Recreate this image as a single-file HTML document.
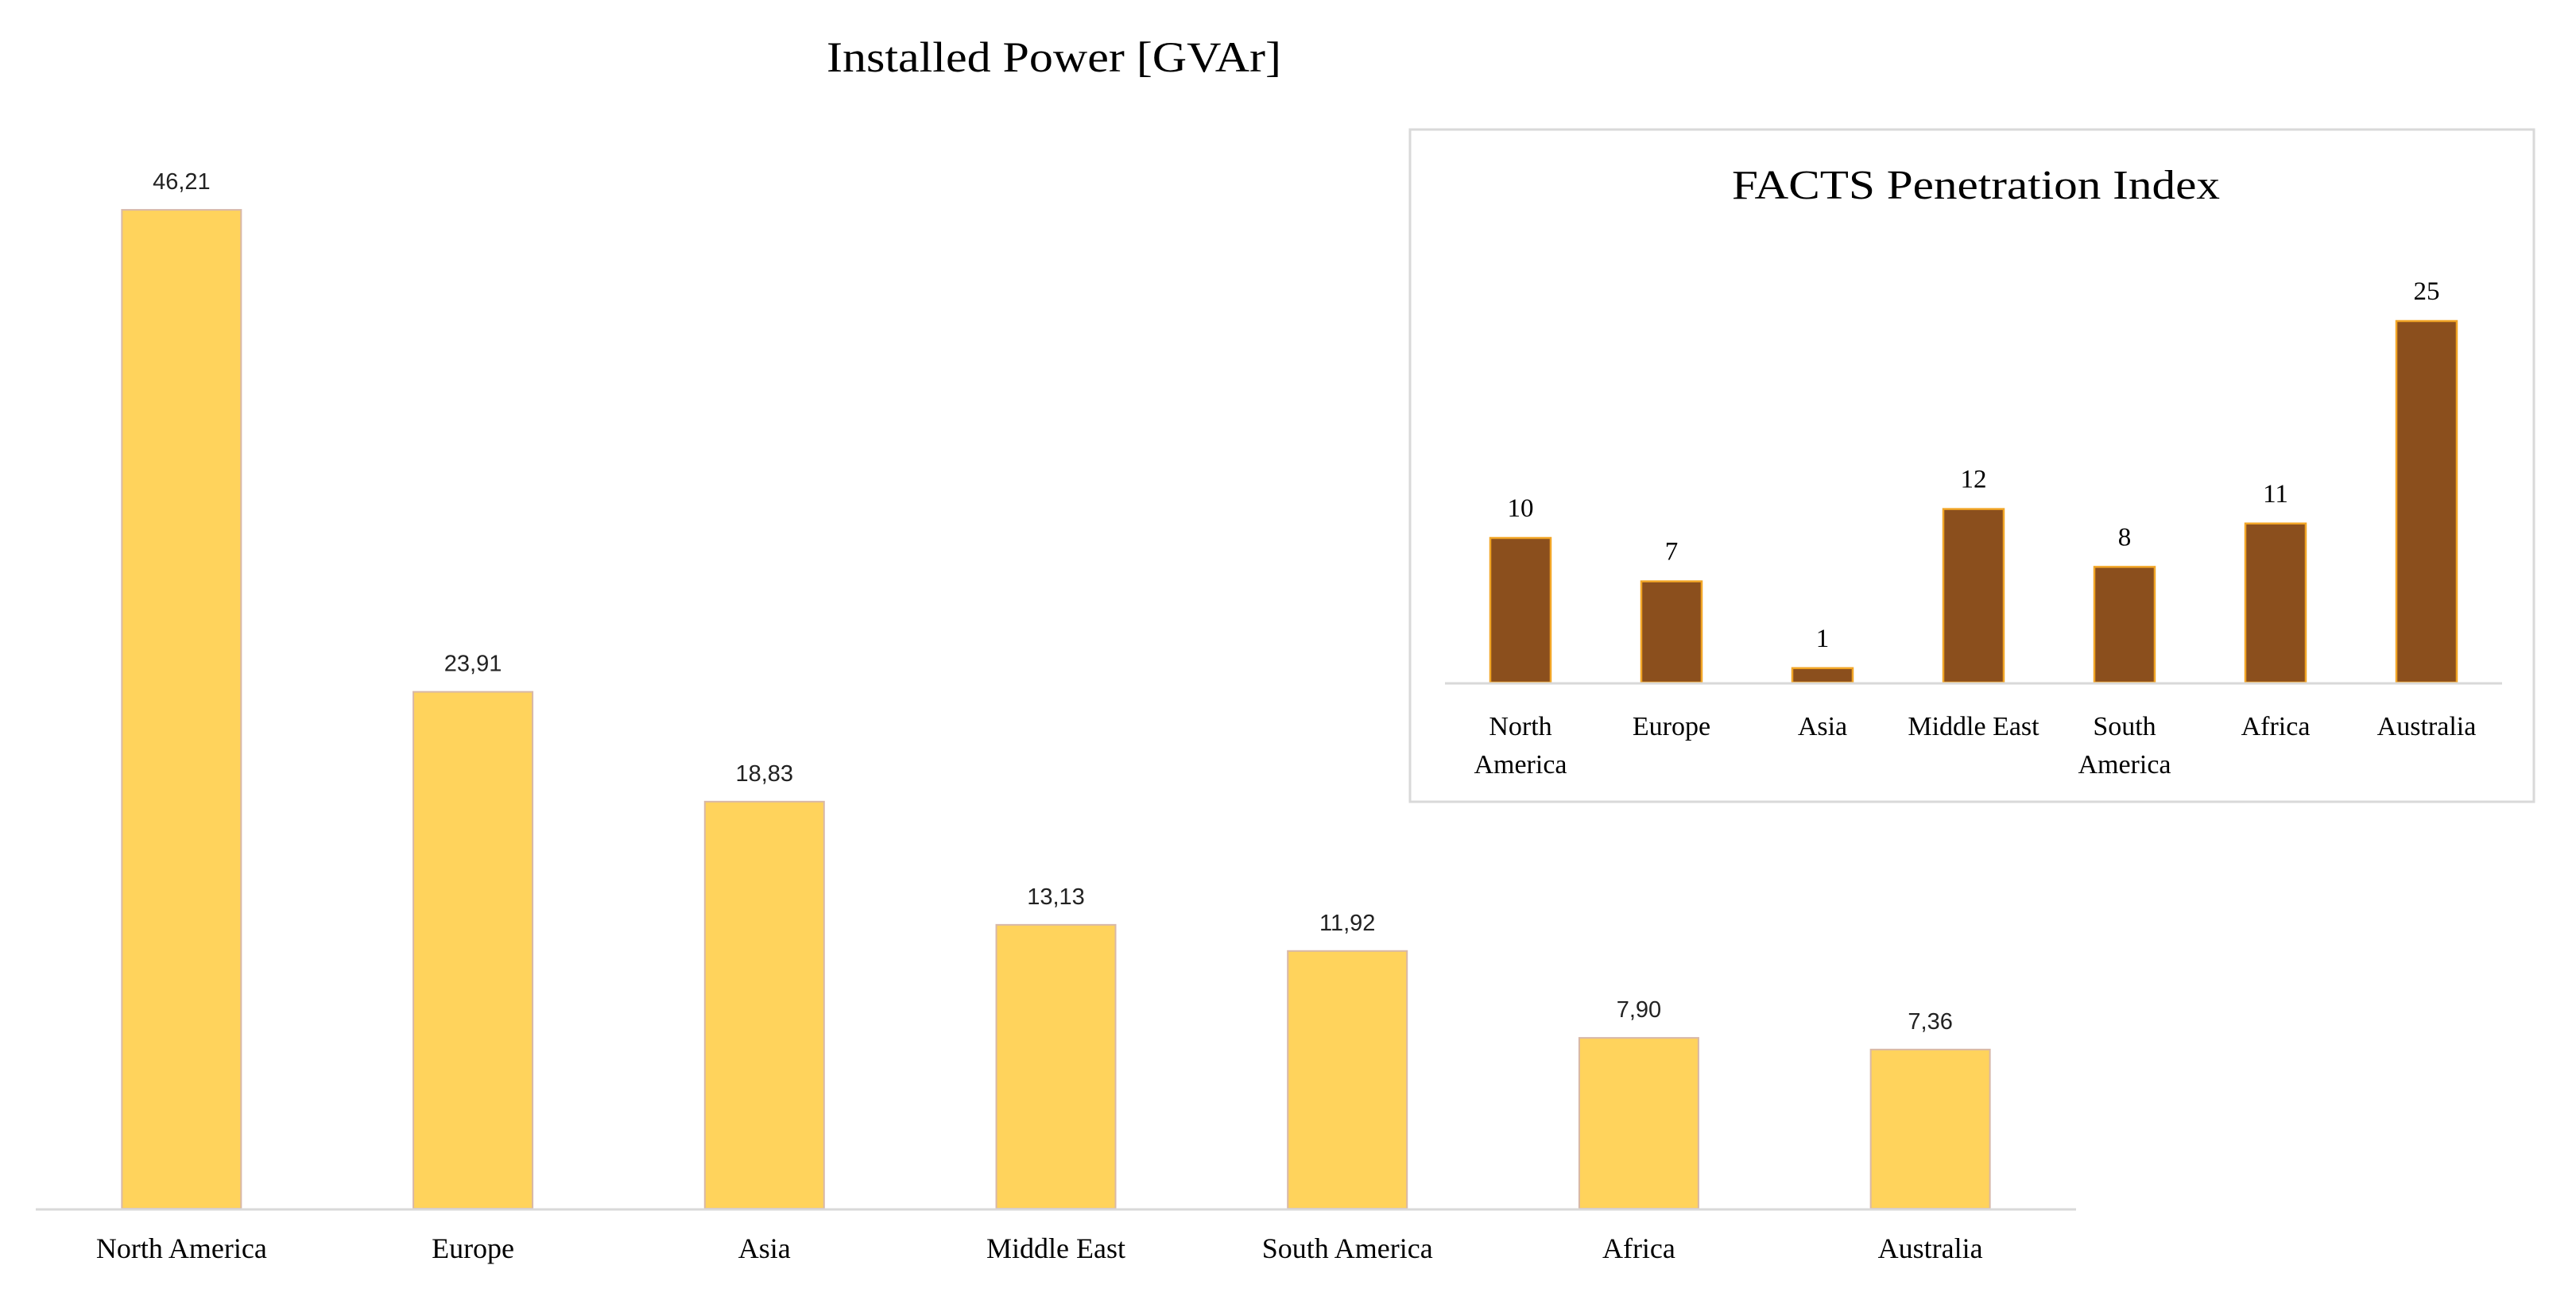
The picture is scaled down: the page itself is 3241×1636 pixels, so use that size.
<!DOCTYPE html>
<html><head><meta charset="utf-8"><style>
html,body{margin:0;padding:0;background:#fff;}
svg{display:block;}
.serif{font-family:"Liberation Serif","DejaVu Serif",serif;fill:#000;}
.sans{font-family:"Liberation Sans",sans-serif;fill:#222;}
</style></head><body>
<svg id="chart" width="3241" height="1636" viewBox="0 0 3241 1636" xmlns="http://www.w3.org/2000/svg">
<text class="serif" x="1326" y="90" text-anchor="middle" font-size="54" textLength="572" lengthAdjust="spacingAndGlyphs">Installed Power [GVAr]</text>
<g id="main"></g>
<rect x="1774" y="163" width="1414" height="846" fill="#fff" stroke="#d9d9d9" stroke-width="3"/>
<text class="serif" x="2486" y="250" text-anchor="middle" font-size="52" textLength="614" lengthAdjust="spacingAndGlyphs">FACTS Penetration Index</text>
<g id="inset"></g>
</svg>
<script>
const categories = ["North America","Europe","Asia","Middle East","South America","Africa","Australia"];
const powerValues = [46.21,23.91,18.83,13.13,11.92,7.90,7.36];
const powerLabels = ["46,21","23,91","18,83","13,13","11,92","7,90","7,36"];
const insetLines = [["North","America"],["Europe"],["Asia"],["Middle East"],["South","America"],["Africa"],["Australia"]];
const indexValues = [10,7,1,12,8,11,25];

const NS="http://www.w3.org/2000/svg";
function mk(tag,attrs,parent,text){const e=document.createElementNS(NS,tag);for(const k in attrs)e.setAttribute(k,attrs[k]);if(text!==undefined)e.textContent=text;parent.appendChild(e);return e;}

const mX0=45,mX1=2612,mBase=1521,mScale=27.2;
const mBand=(mX1-mX0)/categories.length;
function mx(i){return mX0+mBand*(i+0.5);}
function my(v){return mBase-v*mScale;}
const main=document.getElementById('main');
powerValues.forEach((v,i)=>{
  const r=mk('rect',{x:mx(i)-75,y:my(v),width:150,height:mBase-my(v),fill:'#FFD35C',stroke:'#d8b8a8','stroke-width':2},main);
  
  
  const t=mk('text',{x:mx(i),y:my(v)-26,'text-anchor':'middle','font-size':29,class:'sans'},main,powerLabels[i]);
  
  
  const c=mk('text',{x:mx(i),y:1583,'text-anchor':'middle','font-size':36,class:'serif'},main,categories[i]);
  
  
});
const ax=mk('line',{x1:mX0,x2:mX1,y1:mBase+1,y2:mBase+1,stroke:'#d9d9d9','stroke-width':3},main);



const iX0=1818,iX1=3148,iBase=859,iScale=18.2;
const iBand=(iX1-iX0)/categories.length;
function ix(i){return iX0+iBand*(i+0.5);}
function iy(v){return iBase-v*iScale;}
const inset=document.getElementById('inset');
indexValues.forEach((v,i)=>{
  const r=mk('rect',{x:ix(i)-38,y:iy(v),width:76,height:iBase-iy(v),fill:'#8B4F1D',stroke:'#F2A627','stroke-width':2.5},inset);
  
  
  const t=mk('text',{x:ix(i),y:iy(v)-27,'text-anchor':'middle','font-size':33,class:'serif'},inset,String(v));
  
  
  insetLines[i].forEach((ln,j)=>{
    const c=mk('text',{x:ix(i),y:925+j*48,'text-anchor':'middle','font-size':34,class:'serif'},inset,ln);
    
    
  });
});
const ax2=mk('line',{x1:iX0,x2:iX1,y1:iBase+1,y2:iBase+1,stroke:'#d9d9d9','stroke-width':3},inset);


</script>
</body></html>
